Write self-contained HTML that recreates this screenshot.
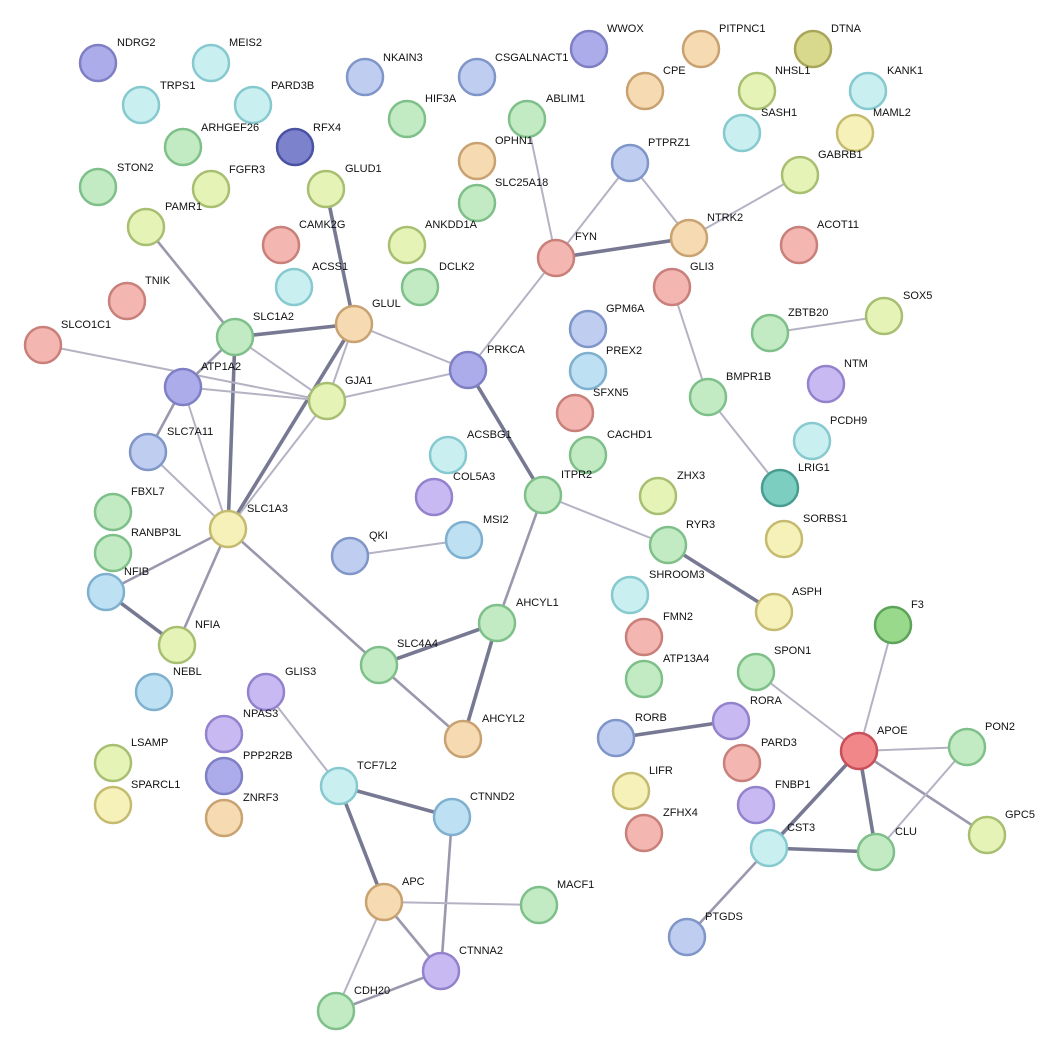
<!DOCTYPE html>
<html><head><meta charset="utf-8"><style>
html,body{margin:0;padding:0;background:#fff;}
svg{display:block;}
text{font-family:"Liberation Sans",sans-serif;font-size:11px;fill:#111;}
.t{stroke:#b5b2c4;stroke-width:2;}
.m{stroke:#9a98ad;stroke-width:2.6;}
.k{stroke:#777892;stroke-width:3.6;}
circle{stroke-width:2.5;}
.pb{fill:#acaceb;stroke:#7f80c4}
.cy{fill:#c9eff1;stroke:#86c9cf}
.lb{fill:#bde0f2;stroke:#7fb0cf}
.gr{fill:#c2eac3;stroke:#7fc08a}
.yg{fill:#e6f3b7;stroke:#a8bf72}
.ye{fill:#f6f1b9;stroke:#c5bb70}
.or{fill:#f6dab2;stroke:#c9a272}
.rd{fill:#f3b6b1;stroke:#c9807a}
.bl{fill:#bfcdf0;stroke:#8096c8}
.pu{fill:#c9b9f2;stroke:#9382cc}
.db{fill:#7c82cb;stroke:#4a52a3}
.ol{fill:#d9d98e;stroke:#a8a65a}
.te{fill:#7ccfc0;stroke:#4a9c90}
.f3{fill:#98d98c;stroke:#5ea35a}
.ap{fill:#f2878a;stroke:#c9505a}
</style></head><body>
<svg width="1037" height="1057" viewBox="0 0 1037 1057">
<g>
<line class="k" x1="326" y1="189" x2="354" y2="324"/>
<line class="k" x1="556" y1="258" x2="689" y2="238"/>
<line class="t" x1="630" y1="163" x2="556" y2="258"/>
<line class="t" x1="630" y1="163" x2="689" y2="238"/>
<line class="t" x1="689" y1="238" x2="800" y2="175"/>
<line class="t" x1="527" y1="119" x2="556" y2="258"/>
<line class="t" x1="556" y1="258" x2="468" y2="370"/>
<line class="t" x1="672" y1="287" x2="708" y2="397"/>
<line class="t" x1="708" y1="397" x2="780" y2="488"/>
<line class="t" x1="770" y1="333" x2="884" y2="316"/>
<line class="m" x1="146" y1="227" x2="235" y2="337"/>
<line class="k" x1="235" y1="337" x2="354" y2="324"/>
<line class="m" x1="235" y1="337" x2="183" y2="387"/>
<line class="k" x1="235" y1="337" x2="228" y2="529"/>
<line class="t" x1="235" y1="337" x2="327" y2="401"/>
<line class="k" x1="354" y1="324" x2="228" y2="529"/>
<line class="t" x1="354" y1="324" x2="327" y2="401"/>
<line class="t" x1="354" y1="324" x2="468" y2="370"/>
<line class="t" x1="43" y1="345" x2="327" y2="401"/>
<line class="t" x1="183" y1="387" x2="327" y2="401"/>
<line class="m" x1="183" y1="387" x2="148" y2="452"/>
<line class="t" x1="183" y1="387" x2="228" y2="529"/>
<line class="t" x1="327" y1="401" x2="468" y2="370"/>
<line class="t" x1="327" y1="401" x2="228" y2="529"/>
<line class="t" x1="148" y1="452" x2="228" y2="529"/>
<line class="k" x1="468" y1="370" x2="543" y2="495"/>
<line class="t" x1="543" y1="495" x2="668" y2="545"/>
<line class="m" x1="543" y1="495" x2="497" y2="623"/>
<line class="k" x1="668" y1="545" x2="774" y2="612"/>
<line class="m" x1="228" y1="529" x2="106" y2="592"/>
<line class="m" x1="228" y1="529" x2="177" y2="645"/>
<line class="k" x1="106" y1="592" x2="177" y2="645"/>
<line class="m" x1="228" y1="529" x2="379" y2="665"/>
<line class="k" x1="379" y1="665" x2="497" y2="623"/>
<line class="m" x1="379" y1="665" x2="463" y2="739"/>
<line class="k" x1="497" y1="623" x2="463" y2="739"/>
<line class="t" x1="350" y1="556" x2="464" y2="540"/>
<line class="t" x1="266" y1="692" x2="339" y2="786"/>
<line class="k" x1="339" y1="786" x2="452" y2="817"/>
<line class="k" x1="339" y1="786" x2="384" y2="902"/>
<line class="m" x1="452" y1="817" x2="441" y2="971"/>
<line class="t" x1="384" y1="902" x2="539" y2="905"/>
<line class="m" x1="384" y1="902" x2="441" y2="971"/>
<line class="t" x1="384" y1="902" x2="336" y2="1011"/>
<line class="m" x1="336" y1="1011" x2="441" y2="971"/>
<line class="k" x1="616" y1="738" x2="731" y2="721"/>
<line class="t" x1="756" y1="672" x2="859" y2="751"/>
<line class="t" x1="893" y1="625" x2="859" y2="751"/>
<line class="t" x1="859" y1="751" x2="967" y2="747"/>
<line class="m" x1="859" y1="751" x2="987" y2="835"/>
<line class="k" x1="859" y1="751" x2="769" y2="848"/>
<line class="k" x1="859" y1="751" x2="876" y2="852"/>
<line class="t" x1="967" y1="747" x2="876" y2="852"/>
<line class="k" x1="769" y1="848" x2="876" y2="852"/>
<line class="m" x1="769" y1="848" x2="687" y2="937"/>
</g>
<g>
<circle class="pb" cx="98" cy="63" r="18"/><text x="117" y="46">NDRG2</text>
<circle class="cy" cx="211" cy="63" r="18"/><text x="229" y="46">MEIS2</text>
<circle class="cy" cx="141" cy="105" r="18"/><text x="160" y="89">TRPS1</text>
<circle class="cy" cx="253" cy="105" r="18"/><text x="271" y="89">PARD3B</text>
<circle class="gr" cx="183" cy="147" r="18"/><text x="201" y="131">ARHGEF26</text>
<circle class="db" cx="295" cy="147" r="18"/><text x="313" y="131">RFX4</text>
<circle class="gr" cx="98" cy="187" r="18"/><text x="117" y="171">STON2</text>
<circle class="yg" cx="211" cy="189" r="18"/><text x="229" y="173">FGFR3</text>
<circle class="yg" cx="146" cy="227" r="18"/><text x="165" y="210">PAMR1</text>
<circle class="bl" cx="365" cy="77" r="18"/><text x="383" y="61">NKAIN3</text>
<circle class="bl" cx="477" cy="77" r="18"/><text x="495" y="61">CSGALNACT1</text>
<circle class="gr" cx="407" cy="119" r="18"/><text x="425" y="102">HIF3A</text>
<circle class="pb" cx="589" cy="49" r="18"/><text x="607" y="32">WWOX</text>
<circle class="or" cx="701" cy="49" r="18"/><text x="719" y="32">PITPNC1</text>
<circle class="ol" cx="813" cy="49" r="18"/><text x="831" y="32">DTNA</text>
<circle class="or" cx="645" cy="91" r="18"/><text x="663" y="74">CPE</text>
<circle class="yg" cx="757" cy="91" r="18"/><text x="775" y="74">NHSL1</text>
<circle class="cy" cx="868" cy="91" r="18"/><text x="887" y="74">KANK1</text>
<circle class="gr" cx="527" cy="119" r="18"/><text x="546" y="102">ABLIM1</text>
<circle class="cy" cx="742" cy="133" r="18"/><text x="761" y="116">SASH1</text>
<circle class="ye" cx="855" cy="133" r="18"/><text x="873" y="116">MAML2</text>
<circle class="or" cx="477" cy="161" r="18"/><text x="495" y="144">OPHN1</text>
<circle class="yg" cx="800" cy="175" r="18"/><text x="818" y="158">GABRB1</text>
<circle class="bl" cx="630" cy="163" r="18"/><text x="648" y="146">PTPRZ1</text>
<circle class="gr" cx="477" cy="203" r="18"/><text x="495" y="186">SLC25A18</text>
<circle class="yg" cx="326" cy="189" r="18"/><text x="345" y="172">GLUD1</text>
<circle class="rd" cx="281" cy="245" r="18"/><text x="299" y="228">CAMK2G</text>
<circle class="yg" cx="407" cy="245" r="18"/><text x="425" y="228">ANKDD1A</text>
<circle class="rd" cx="556" cy="258" r="18"/><text x="575" y="240">FYN</text>
<circle class="or" cx="689" cy="238" r="18"/><text x="707" y="221">NTRK2</text>
<circle class="rd" cx="799" cy="245" r="18"/><text x="817" y="228">ACOT11</text>
<circle class="rd" cx="127" cy="301" r="18"/><text x="145" y="284">TNIK</text>
<circle class="cy" cx="294" cy="287" r="18"/><text x="312" y="270">ACSS1</text>
<circle class="gr" cx="420" cy="287" r="18"/><text x="439" y="270">DCLK2</text>
<circle class="rd" cx="672" cy="287" r="18"/><text x="690" y="270">GLI3</text>
<circle class="rd" cx="43" cy="345" r="18"/><text x="61" y="328">SLCO1C1</text>
<circle class="gr" cx="235" cy="337" r="18"/><text x="253" y="320">SLC1A2</text>
<circle class="or" cx="354" cy="324" r="18"/><text x="372" y="307">GLUL</text>
<circle class="bl" cx="588" cy="329" r="18"/><text x="606" y="312">GPM6A</text>
<circle class="gr" cx="770" cy="333" r="18"/><text x="788" y="316">ZBTB20</text>
<circle class="yg" cx="884" cy="316" r="18"/><text x="903" y="299">SOX5</text>
<circle class="lb" cx="588" cy="371" r="18"/><text x="606" y="354">PREX2</text>
<circle class="pb" cx="183" cy="387" r="18"/><text x="201" y="370">ATP1A2</text>
<circle class="yg" cx="327" cy="401" r="18"/><text x="345" y="384">GJA1</text>
<circle class="pb" cx="468" cy="370" r="18"/><text x="487" y="353">PRKCA</text>
<circle class="gr" cx="708" cy="397" r="18"/><text x="726" y="380">BMPR1B</text>
<circle class="pu" cx="826" cy="384" r="18"/><text x="844" y="367">NTM</text>
<circle class="rd" cx="575" cy="413" r="18"/><text x="593" y="396">SFXN5</text>
<circle class="cy" cx="812" cy="441" r="18"/><text x="830" y="424">PCDH9</text>
<circle class="bl" cx="148" cy="452" r="18"/><text x="167" y="435">SLC7A11</text>
<circle class="cy" cx="448" cy="455" r="18"/><text x="467" y="438">ACSBG1</text>
<circle class="gr" cx="588" cy="455" r="18"/><text x="607" y="438">CACHD1</text>
<circle class="pu" cx="434" cy="497" r="18"/><text x="453" y="480">COL5A3</text>
<circle class="te" cx="780" cy="488" r="18"/><text x="798" y="471">LRIG1</text>
<circle class="gr" cx="543" cy="495" r="18"/><text x="561" y="478">ITPR2</text>
<circle class="yg" cx="658" cy="496" r="18"/><text x="677" y="479">ZHX3</text>
<circle class="gr" cx="113" cy="512" r="18"/><text x="131" y="495">FBXL7</text>
<circle class="ye" cx="228" cy="529" r="18"/><text x="247" y="512">SLC1A3</text>
<circle class="ye" cx="784" cy="539" r="18"/><text x="803" y="522">SORBS1</text>
<circle class="gr" cx="113" cy="553" r="18"/><text x="131" y="536">RANBP3L</text>
<circle class="bl" cx="350" cy="556" r="18"/><text x="369" y="539">QKI</text>
<circle class="lb" cx="464" cy="540" r="18"/><text x="483" y="523">MSI2</text>
<circle class="gr" cx="668" cy="545" r="18"/><text x="686" y="528">RYR3</text>
<circle class="lb" cx="106" cy="592" r="18"/><text x="124" y="575">NFIB</text>
<circle class="cy" cx="630" cy="595" r="18"/><text x="649" y="578">SHROOM3</text>
<circle class="ye" cx="774" cy="612" r="18"/><text x="792" y="595">ASPH</text>
<circle class="f3" cx="893" cy="625" r="18"/><text x="911" y="608">F3</text>
<circle class="gr" cx="497" cy="623" r="18"/><text x="516" y="606">AHCYL1</text>
<circle class="yg" cx="177" cy="645" r="18"/><text x="195" y="628">NFIA</text>
<circle class="rd" cx="644" cy="637" r="18"/><text x="663" y="620">FMN2</text>
<circle class="gr" cx="379" cy="665" r="18"/><text x="397" y="647">SLC4A4</text>
<circle class="gr" cx="756" cy="672" r="18"/><text x="774" y="654">SPON1</text>
<circle class="lb" cx="154" cy="692" r="18"/><text x="173" y="675">NEBL</text>
<circle class="pu" cx="266" cy="692" r="18"/><text x="285" y="675">GLIS3</text>
<circle class="gr" cx="644" cy="679" r="18"/><text x="663" y="662">ATP13A4</text>
<circle class="pu" cx="731" cy="721" r="18"/><text x="750" y="704">RORA</text>
<circle class="bl" cx="616" cy="738" r="18"/><text x="635" y="721">RORB</text>
<circle class="or" cx="463" cy="739" r="18"/><text x="482" y="722">AHCYL2</text>
<circle class="pu" cx="224" cy="734" r="18"/><text x="243" y="717">NPAS3</text>
<circle class="ap" cx="859" cy="751" r="18"/><text x="877" y="734">APOE</text>
<circle class="gr" cx="967" cy="747" r="18"/><text x="985" y="730">PON2</text>
<circle class="rd" cx="742" cy="763" r="18"/><text x="761" y="746">PARD3</text>
<circle class="yg" cx="113" cy="763" r="18"/><text x="131" y="746">LSAMP</text>
<circle class="pb" cx="224" cy="776" r="18"/><text x="243" y="759">PPP2R2B</text>
<circle class="cy" cx="339" cy="786" r="18"/><text x="357" y="769">TCF7L2</text>
<circle class="ye" cx="631" cy="791" r="18"/><text x="649" y="774">LIFR</text>
<circle class="pu" cx="756" cy="805" r="18"/><text x="775" y="788">FNBP1</text>
<circle class="ye" cx="113" cy="805" r="18"/><text x="131" y="788">SPARCL1</text>
<circle class="or" cx="224" cy="818" r="18"/><text x="243" y="801">ZNRF3</text>
<circle class="lb" cx="452" cy="817" r="18"/><text x="470" y="800">CTNND2</text>
<circle class="rd" cx="644" cy="833" r="18"/><text x="663" y="816">ZFHX4</text>
<circle class="yg" cx="987" cy="835" r="18"/><text x="1005" y="818">GPC5</text>
<circle class="cy" cx="769" cy="848" r="18"/><text x="787" y="831">CST3</text>
<circle class="gr" cx="876" cy="852" r="18"/><text x="895" y="835">CLU</text>
<circle class="or" cx="384" cy="902" r="18"/><text x="402" y="885">APC</text>
<circle class="gr" cx="539" cy="905" r="18"/><text x="557" y="888">MACF1</text>
<circle class="bl" cx="687" cy="937" r="18"/><text x="705" y="920">PTGDS</text>
<circle class="pu" cx="441" cy="971" r="18"/><text x="459" y="954">CTNNA2</text>
<circle class="gr" cx="336" cy="1011" r="18"/><text x="354" y="994">CDH20</text>
</g>
</svg>
</body></html>
